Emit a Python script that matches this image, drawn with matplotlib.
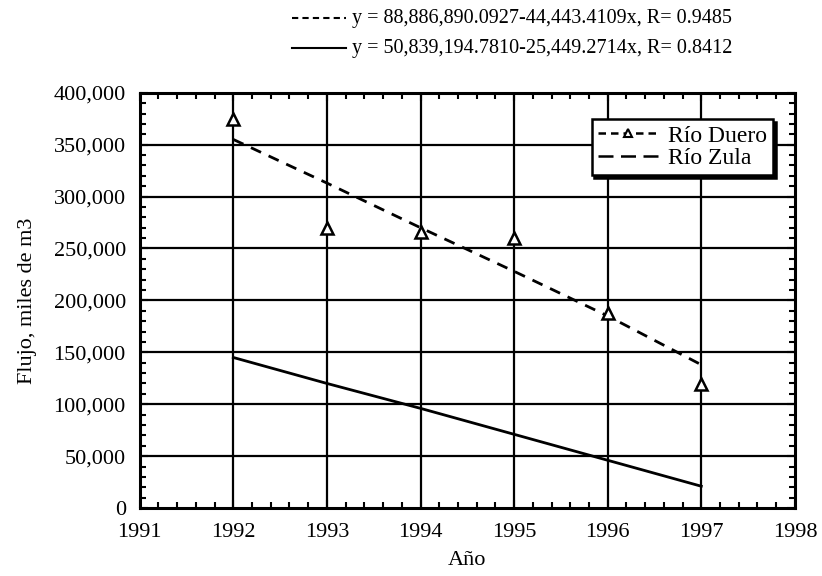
import matplotlib.pyplot as plt
from matplotlib.lines import Line2D
from matplotlib.ticker import FuncFormatter, MultipleLocator

plt.rcParams['font.family'] = ['Liberation Serif', 'DejaVu Serif']

# data
years = [1992, 1993, 1994, 1995, 1996, 1997]
duero = [375000, 270000, 266000, 260000, 188000, 119000]
duero_trend = [355000, 313000, 270000, 228000, 185000, 138000]
zula = [145000, 120000, 96000, 71000, 46000, 21000]

eq_duero = "y = 88,886,890.0927-44,443.4109x, R= 0.9485"
eq_zula = "y = 50,839,194.7810-25,449.2714x, R= 0.8412"

fig = plt.figure(figsize=(8.22, 5.76), dpi=100)
ax = fig.add_axes([0.170, 0.118, 0.797, 0.721])

# grid
for y in range(50000, 400000, 50000):
    ax.axhline(y, color='black', lw=1.6, zorder=1)
for x in years:
    ax.axvline(x, color='black', lw=1.6, zorder=1)

ax.plot(years, duero_trend, color='black', ls=(0, (4, 3)), lw=2, zorder=3)
ax.plot(years, duero, ls='none', marker='^', ms=8, mfc='white', mec='black', mew=1.8, zorder=4)
ax.plot(years, zula, color='black', lw=2, zorder=3)

ax.set_xlim(1991, 1998)
ax.set_ylim(0, 400000)
ax.xaxis.set_major_locator(MultipleLocator(1))
ax.xaxis.set_minor_locator(MultipleLocator(0.2))
ax.yaxis.set_major_locator(MultipleLocator(50000))
ax.yaxis.set_minor_locator(MultipleLocator(10000))
ax.yaxis.set_major_formatter(FuncFormatter(lambda v, p: f"{int(v):,}"))
ax.tick_params(which='both', direction='in', top=True, right=True, width=1.5, labelsize=16)
ax.tick_params(which='major', length=6)
ax.tick_params(which='minor', length=4)
ax.tick_params(axis='x', pad=11)
ax.tick_params(axis='y', pad=10)
for s in ax.spines.values():
    s.set_linewidth(2.2)

ax.set_xlabel("Año", fontsize=16, labelpad=6)
ax.set_ylabel("Flujo, miles de m3", fontsize=16, labelpad=12)

handles = [
    Line2D([], [], color='black', ls=(0, (3, 2)), lw=1.8, marker='^', ms=6, mfc='white', mec='black', mew=1.5),
    Line2D([], [], color='black', ls=(0, (6, 3)), lw=1.8),
]
leg = ax.legend(handles, ["Río Duero", "Río Zula"], loc='upper right', bbox_to_anchor=(0.985, 0.965),
                fontsize=17, frameon=True, fancybox=False,
                shadow={'color': 'black', 'alpha': 1}, handlelength=2.6,
                borderpad=0.25, labelspacing=0.05, handletextpad=0.4)
leg.get_frame().set_edgecolor('black')
leg.get_frame().set_linewidth(1.8)
leg.set_zorder(10)

# equations above the plot
W, H = 822, 576
def fx(px):
    return px / W
def fy(py):
    return 1 - py / H

fig.add_artist(Line2D([fx(292), fx(346)], [fy(18), fy(18)], color='black', ls=(0, (3, 2)), lw=1.5))
fig.text(fx(352), fy(18), eq_duero, fontsize=14.5, va='center', ha='left')
fig.add_artist(Line2D([fx(292), fx(346)], [fy(48), fy(48)], color='black', lw=1.5))
fig.text(fx(352), fy(48), eq_zula, fontsize=14.5, va='center', ha='left')

fig.savefig("out.png", dpi=100)
